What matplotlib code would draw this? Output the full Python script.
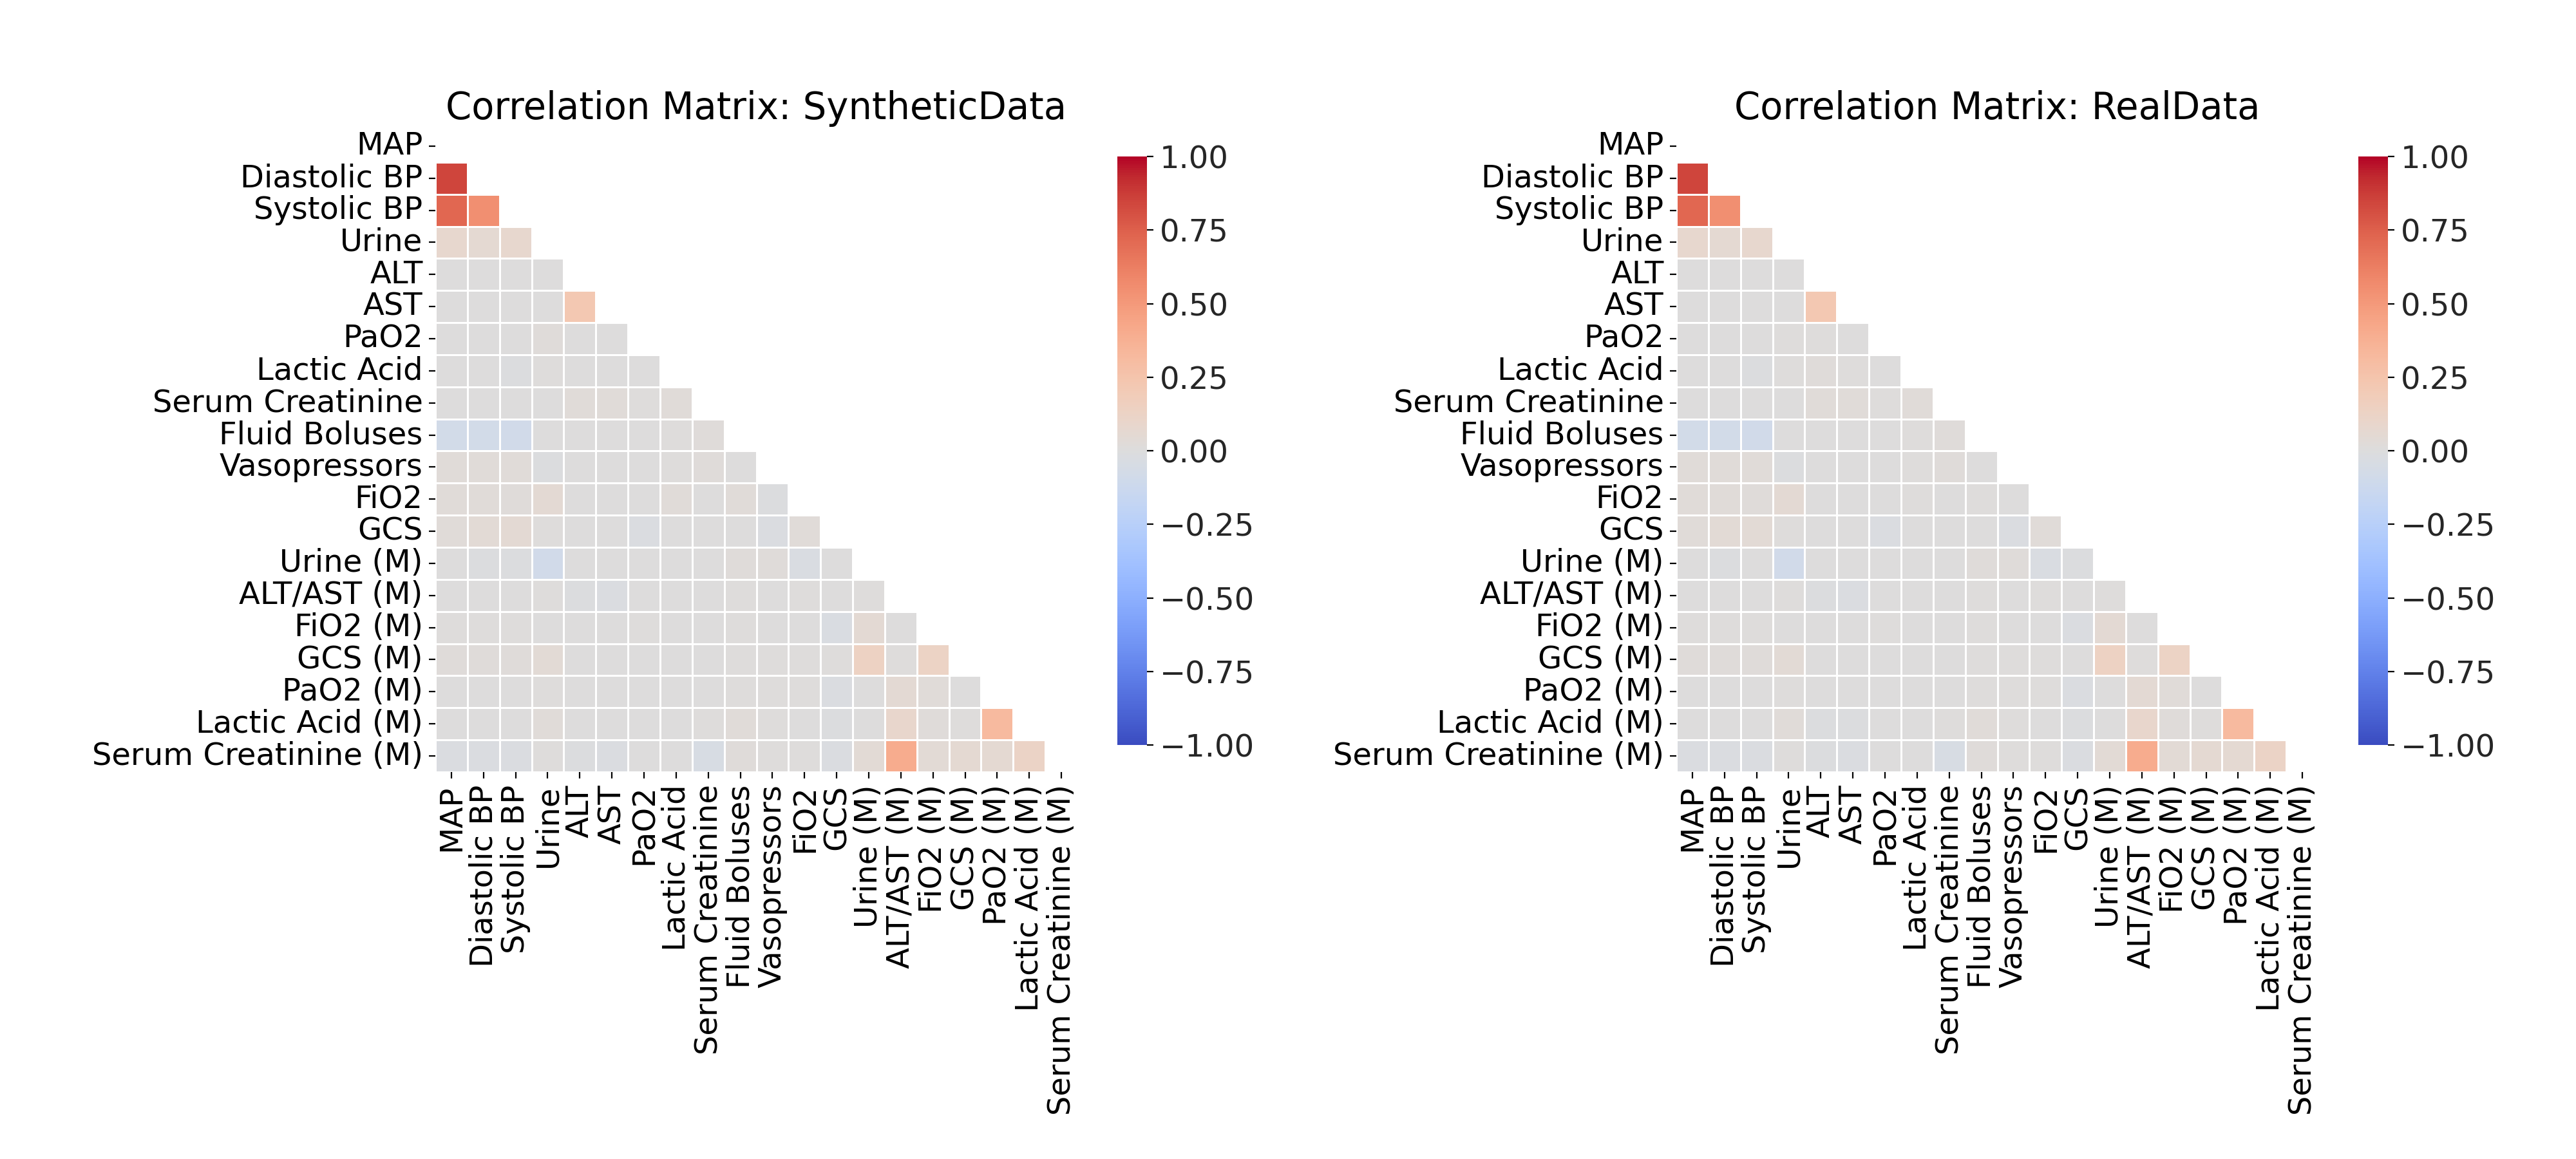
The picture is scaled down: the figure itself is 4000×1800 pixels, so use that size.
import numpy as np
import matplotlib
matplotlib.use("Agg")
import matplotlib.pyplot as plt
import seaborn as sns

LABELS = [
    "MAP", "Diastolic BP", "Systolic BP", "Urine", "ALT", "AST", "PaO2",
    "Lactic Acid", "Serum Creatinine", "Fluid Boluses", "Vasopressors",
    "FiO2", "GCS", "Urine (M)", "ALT/AST (M)", "FiO2 (M)", "GCS (M)",
    "PaO2 (M)", "Lactic Acid (M)", "Serum Creatinine (M)",
]

# lower triangle (row i holds correlations with columns 0..i-1)
SYNTH_LOWER = [
    [],
    [0.85],
    [0.72, 0.55],
    [0.08, 0.06, 0.08],
    [0.00, 0.00, 0.00, 0.00],
    [0.00, 0.00, 0.00, 0.00, 0.22],
    [0.00, 0.00, 0.00, 0.02, 0.00, 0.00],
    [0.00, 0.00, -0.01, 0.01, 0.00, 0.00, 0.00],
    [0.00, 0.00, 0.00, 0.00, 0.03, 0.03, 0.01, 0.03],
    [-0.08, -0.08, -0.09, 0.00, 0.00, 0.00, 0.00, 0.01, 0.02],
    [0.03, 0.03, 0.03, -0.01, 0.00, 0.00, 0.00, 0.01, 0.02, 0.00],
    [0.03, 0.03, 0.02, 0.05, 0.00, 0.00, 0.00, 0.03, 0.00, 0.03, -0.01],
    [0.03, 0.04, 0.05, 0.01, 0.00, 0.00, -0.02, 0.00, 0.00, 0.00, -0.02, 0.03],
    [0.00, -0.01, -0.01, -0.09, 0.00, 0.00, 0.00, 0.00, 0.00, 0.02, 0.02, -0.03, 0.00],
    [0.00, 0.00, 0.00, 0.01, -0.01, -0.02, 0.00, 0.00, 0.00, 0.01, 0.00, 0.01, 0.00, 0.01],
    [0.01, 0.01, 0.01, 0.00, 0.00, 0.00, 0.01, 0.00, 0.00, 0.01, 0.00, 0.00, -0.03, 0.05, 0.00],
    [0.02, 0.02, 0.02, 0.04, 0.00, 0.00, 0.00, 0.00, 0.00, 0.01, 0.01, 0.01, 0.01, 0.14, 0.01, 0.13],
    [0.00, 0.00, 0.00, 0.01, 0.00, 0.00, 0.00, 0.00, 0.00, 0.01, 0.01, 0.01, -0.02, 0.00, 0.05, 0.03, 0.00],
    [0.00, 0.00, 0.00, 0.03, 0.00, 0.00, 0.00, 0.00, 0.01, 0.03, 0.01, 0.00, -0.01, 0.00, 0.09, 0.02, 0.01, 0.32],
    [-0.02, -0.02, -0.02, 0.01, -0.01, -0.02, 0.00, 0.00, -0.04, 0.02, 0.01, 0.01, -0.02, 0.04, 0.40, 0.04, 0.06, 0.06, 0.12],
]

REAL_LOWER = [
    [],
    [0.85],
    [0.72, 0.55],
    [0.08, 0.06, 0.08],
    [0.00, 0.00, 0.00, 0.00],
    [0.00, 0.00, 0.00, 0.00, 0.22],
    [0.00, 0.00, 0.00, 0.01, 0.01, 0.00],
    [0.00, 0.00, -0.01, 0.01, 0.02, 0.01, 0.00],
    [0.00, 0.00, 0.00, 0.00, 0.03, 0.03, 0.01, 0.03],
    [-0.08, -0.08, -0.09, 0.00, 0.00, 0.00, 0.00, 0.01, 0.02],
    [0.03, 0.03, 0.03, -0.01, 0.00, 0.00, 0.00, 0.01, 0.02, 0.00],
    [0.03, 0.03, 0.02, 0.05, 0.00, 0.00, 0.00, 0.01, 0.00, 0.01, 0.00],
    [0.03, 0.04, 0.04, 0.01, 0.00, 0.00, -0.02, 0.00, 0.00, 0.00, -0.02, 0.03],
    [0.00, -0.01, 0.00, -0.09, 0.00, 0.00, 0.00, 0.00, 0.00, 0.02, 0.02, -0.03, -0.01],
    [0.00, 0.00, 0.00, 0.01, -0.01, -0.02, 0.00, 0.00, 0.00, 0.01, 0.00, 0.01, 0.00, 0.01],
    [0.01, 0.01, 0.01, 0.00, 0.00, 0.00, 0.01, 0.00, 0.00, 0.01, 0.00, 0.00, -0.02, 0.05, 0.00],
    [0.02, 0.02, 0.02, 0.04, 0.00, 0.00, 0.00, 0.00, 0.00, 0.01, 0.01, 0.01, 0.00, 0.14, 0.01, 0.13],
    [0.00, 0.00, 0.00, 0.01, 0.00, 0.00, 0.00, 0.00, 0.00, 0.01, 0.01, 0.01, -0.02, 0.00, 0.05, 0.03, 0.00],
    [0.00, 0.00, 0.00, 0.03, -0.01, -0.01, 0.00, 0.00, 0.01, 0.03, 0.01, 0.00, -0.01, 0.00, 0.09, 0.02, 0.01, 0.32],
    [-0.02, -0.02, -0.02, 0.01, -0.01, -0.02, 0.00, 0.00, -0.04, 0.02, 0.01, 0.01, -0.02, 0.04, 0.40, 0.04, 0.06, 0.06, 0.12],
]

TITLES = ["Correlation Matrix: SyntheticData", "Correlation Matrix: RealData"]


def full_matrix(lower):
    n = len(lower)
    m = np.eye(n)
    for i, row in enumerate(lower):
        for j, v in enumerate(row):
            m[i, j] = v
            m[j, i] = v
    return m


plt.rcParams["font.size"] = 17.3

fig = plt.figure(figsize=(20, 9))
# panel offsets (figure fraction) for the two heatmaps
for x0, lower, title in zip([0.169, 0.65075], [SYNTH_LOWER, REAL_LOWER], TITLES):
    ax = fig.add_axes([x0, 0.3339, 0.24925, 0.5539])
    cax = fig.add_axes([x0 + 0.26475, 0.3572, 0.0115, 0.5078])
    corr = full_matrix(lower)
    mask = np.triu(np.ones_like(corr, dtype=bool))
    sns.heatmap(corr, mask=mask, cmap="coolwarm", vmin=-1, vmax=1, square=True,
                linewidths=0.5, xticklabels=LABELS, yticklabels=LABELS,
                ax=ax, cbar_ax=cax)
    ax.set_title(title)
    cax.tick_params(labelcolor="#262626")

plt.savefig("out.png", dpi=200)
